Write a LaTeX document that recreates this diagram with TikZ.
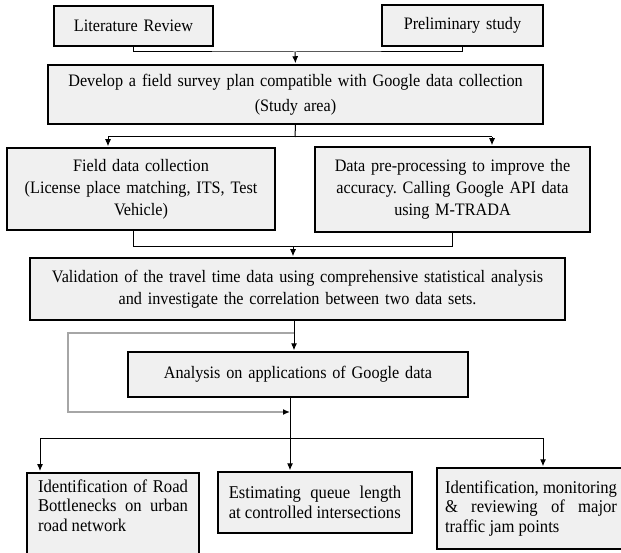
\documentclass[tikz,border=0pt]{standalone}
\usepackage{fontspec}
\setmainfont{Liberation Serif}[FakeStretch=0.925]
\usetikzlibrary{arrows.meta}
\definecolor{boxgray}{HTML}{F0F0F0}
\definecolor{loopgray}{HTML}{A6A6A6}
\hyphenpenalty=10000
\frenchspacing

\begin{document}
\begin{tikzpicture}[x=1pt,y=-1pt,
    stage/.style={draw,fill=boxgray,line width=1.5pt,inner sep=0pt,align=center,
        font=\fontsize{17.5}{22}\selectfont},
    task/.style={stage,align=justify,font=\fontsize{18}{19.5}\selectfont},
    link/.style={line width=1pt},
    arr/.style={link,-{Latex[length=7pt,width=6pt]},shorten >=1pt},
    back/.style={-{Latex[length=7pt,width=6pt,color=black]},draw=loopgray,line width=1.3pt}]
\clip (0,0) rectangle (621,553);

% boxes
\node[stage,minimum width=159pt,minimum height=40pt,text width=150pt] (lit) at (133.5,26){Literature Review};
\node[stage,minimum width=161pt,minimum height=41pt,text width=150pt] (pre) at (462.5,25.5){Preliminary study};
\node[stage,minimum width=495pt,minimum height=59pt,text width=480pt,font=\fontsize{17.5}{24.5}\selectfont] (dev) at (295.5,94.5){Develop a field survey plan compatible with Google data collection\\(Study area)};
\node[stage,minimum width=268pt,minimum height=82pt,text width=258pt] (field) at (141,189){Field data collection\\(License place matching, ITS, Test\\Vehicle)};
\node[stage,minimum width=275pt,minimum height=85pt,text width=265pt] (proc) at (452.5,189.5){Data pre-processing to improve the\\accuracy. Calling Google API data\\using M-TRADA};
\node[stage,minimum width=535pt,minimum height=62pt,text width=525pt] (valid) at (297.5,289){Validation of the travel time data using comprehensive statistical analysis\\and investigate the correlation between two data sets.};
\node[stage,minimum width=340pt,minimum height=45pt,text width=325pt] (anal) at (298,374.5){Analysis on applications of Google data};

\node[task,anchor=north,minimum width=172pt,text width=150pt,inner ysep=7pt,text depth=75pt] (app1) at (113,472){Identification of Road Bottlenecks on urban road network};
\node[task,minimum width=194pt,minimum height=61pt,text width=172.5pt] (app2) at (315,502.5){Estimating queue length at controlled intersections};
\node[task,minimum width=188pt,minimum height=81pt,text width=172pt] (app3) at (531,508.5){Identification, monitoring \& reviewing of major traffic jam points};

% junctions
\coordinate (j1) at (295,52);
\coordinate (s1) at (295,137);
\coordinate (s1l) at (108,137);
\coordinate (s1r) at (492,137);
\coordinate (j2l) at (133,247);
\coordinate (j2r) at (452,247);
\coordinate (j2) at (293,247);
\coordinate (v) at (294,333);
\coordinate (g) at (290,412);
\coordinate (h) at (290,438);
\coordinate (hl) at (40,438);
\coordinate (hr) at (543,438);

\draw[link](lit.south) |- (j1) -| (pre.south);
\draw[arr](j1)--(dev.north);

\draw[link](dev.south)--(s1);
\draw[link](s1l)--(s1r);
\draw[arr](s1l)--(s1l |- field.north);
\draw[arr](s1r)--(s1r |- proc.north);

\draw[link](j2l |- field.south)--(j2l)--(j2r)--(j2r |- proc.south);
\draw[arr](j2)--(j2 |- valid.north);

\draw[arr](v |- valid.south)--(v |- anal.north);
\draw[back](v)--(68,333)|-(g);

\draw[arr](h |- anal.south)--(h |- app2.north);
\draw[link](hl)--(hr);
\draw[arr](hl)--(hl |- app1.north);
\draw[arr](hr)--(hr |- app3.north);

\end{tikzpicture}
\end{document}
